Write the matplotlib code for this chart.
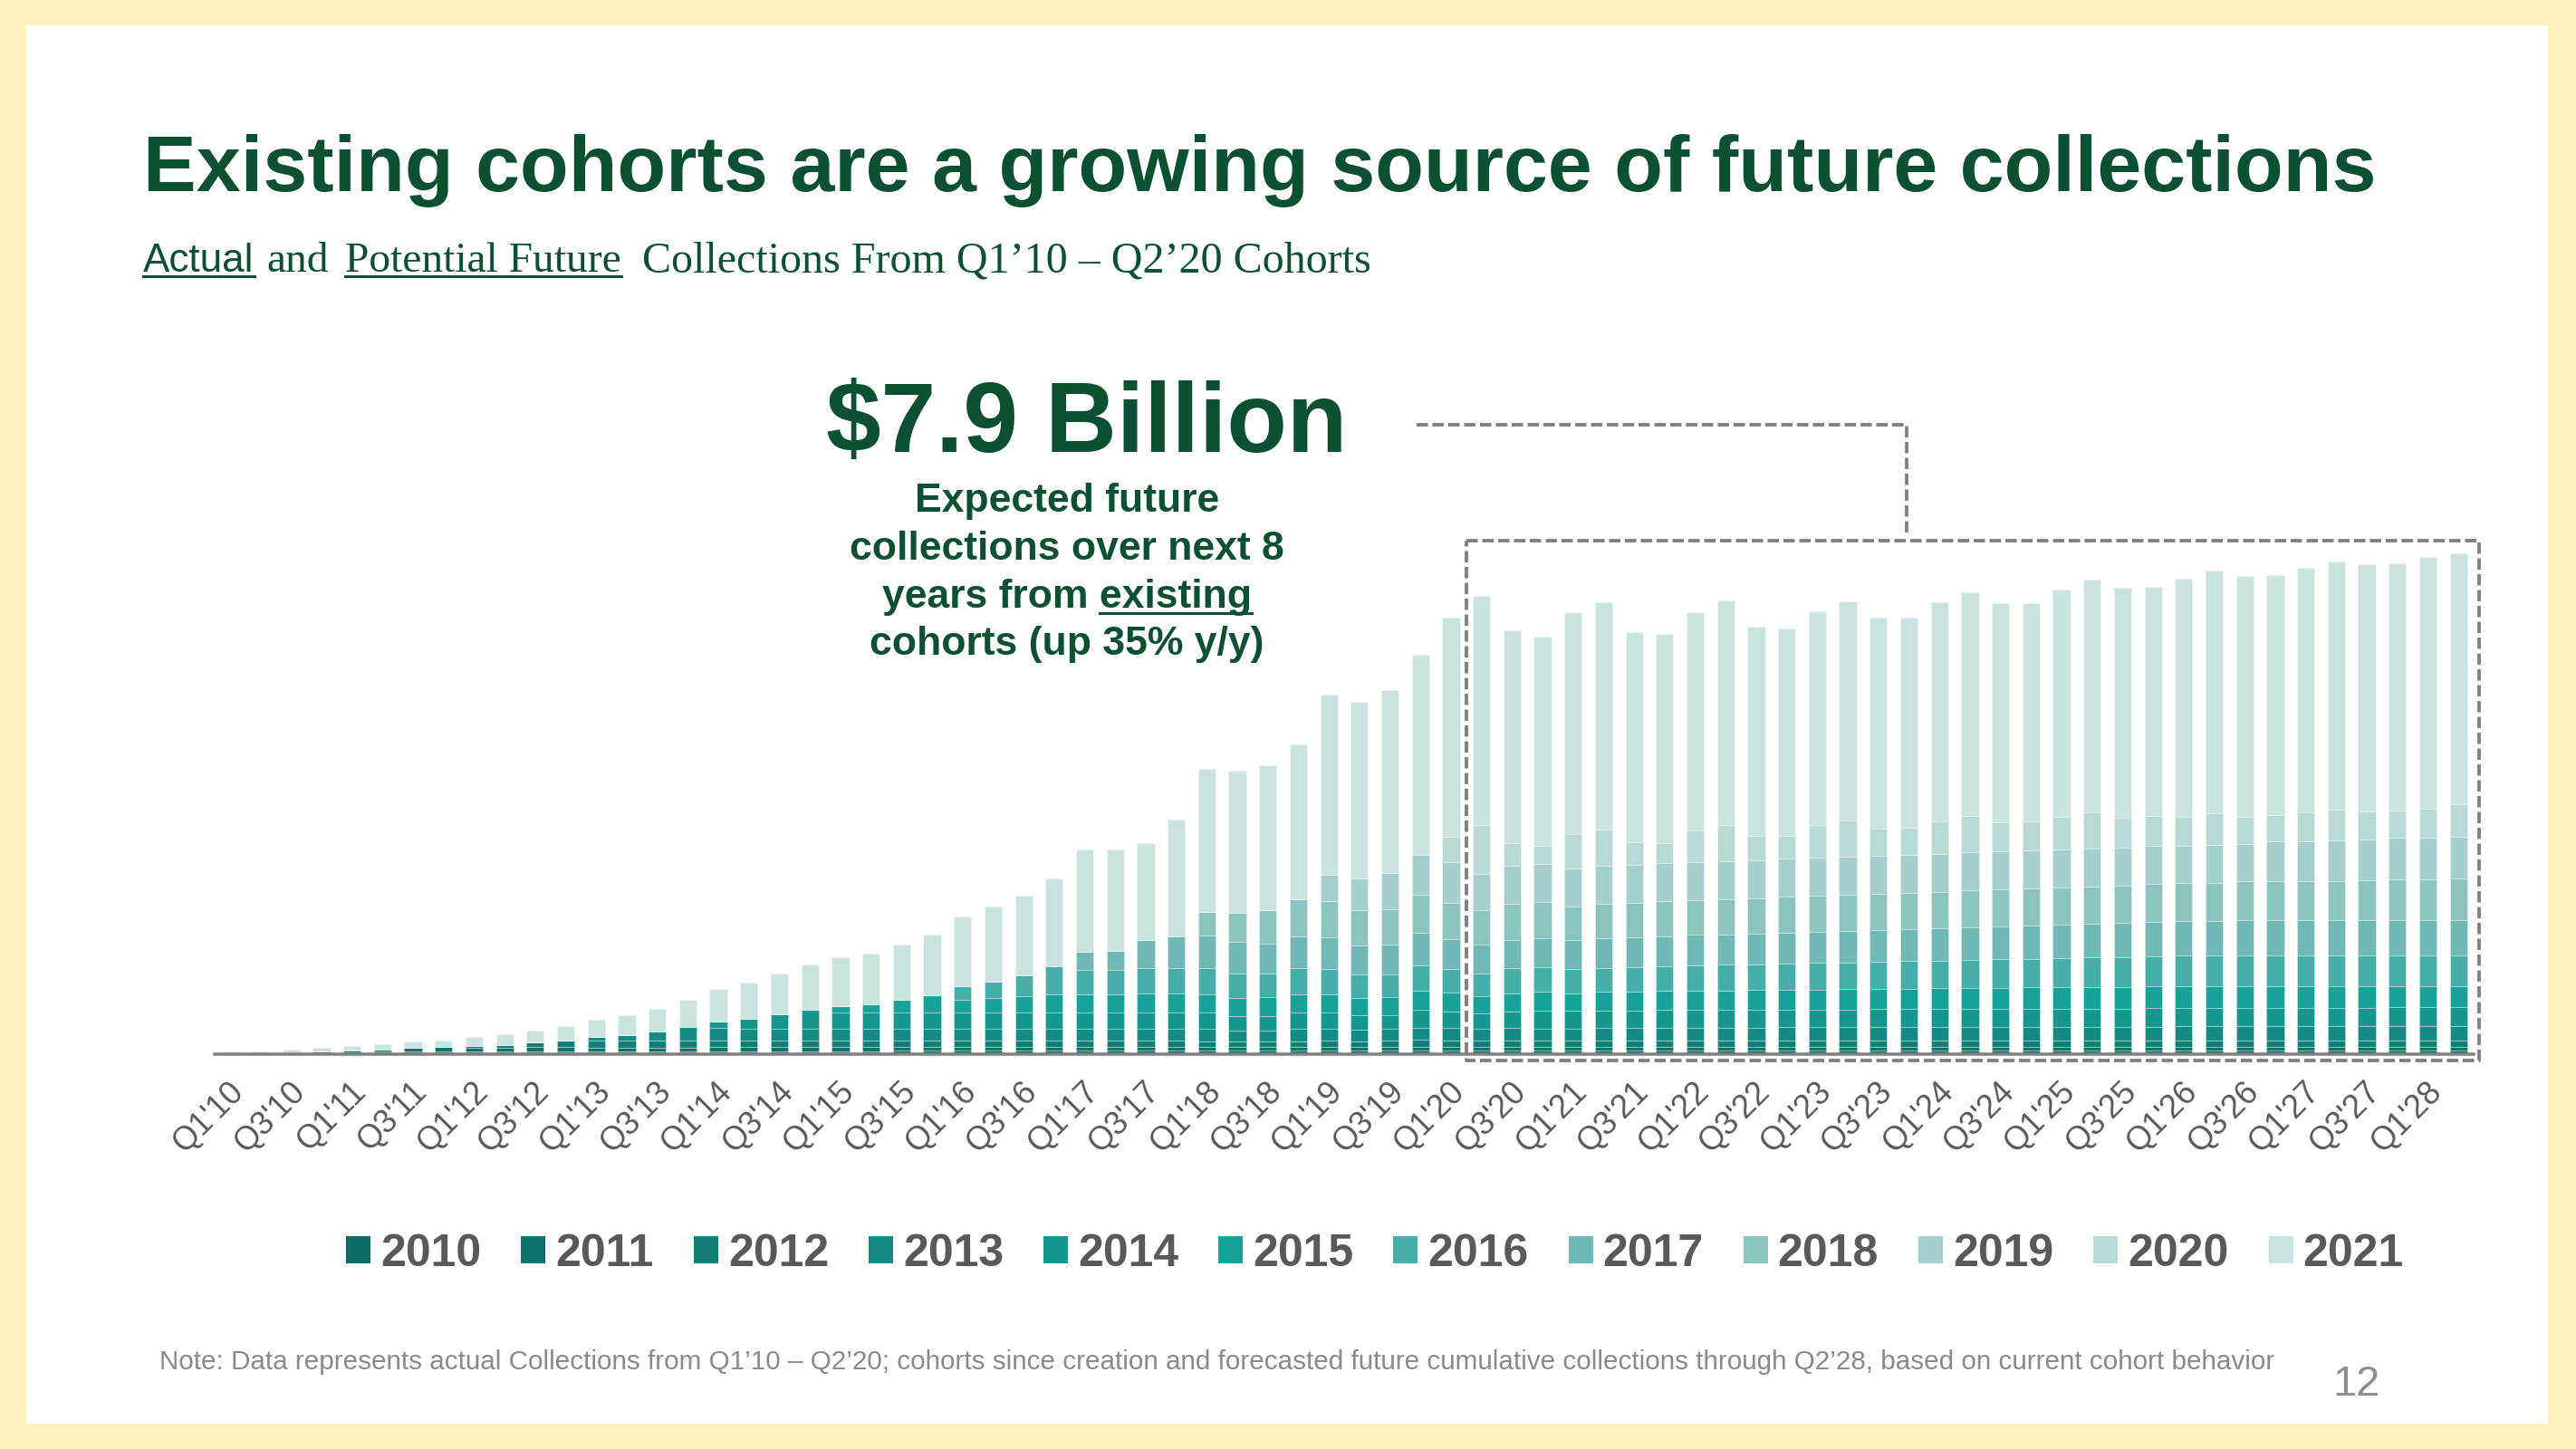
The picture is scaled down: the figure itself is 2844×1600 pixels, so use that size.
import matplotlib
matplotlib.use("Agg")
import matplotlib.pyplot as plt
from matplotlib.patches import Rectangle, Patch
from matplotlib.lines import Line2D
from matplotlib.transforms import ScaledTranslation
import numpy as np

plt.rcParams['lines.scale_dashes'] = False
SANS = ['Liberation Sans', 'DejaVu Sans']
SERIF = ['Liberation Serif', 'DejaVu Serif']
plt.rcParams['font.family'] = SANS

W, H, DPI = 2844, 1600, 100
def fx(px): return px / W
def fy(py): return 1 - py / H
def pt(px): return px * 72 / DPI

# ---------------- data ----------------
tick_labels = ["Q1'10", "Q3'10", "Q1'11", "Q3'11", "Q1'12", "Q3'12", "Q1'13", "Q3'13",
               "Q1'14", "Q3'14", "Q1'15", "Q3'15", "Q1'16", "Q3'16", "Q1'17", "Q3'17",
               "Q1'18", "Q3'18", "Q1'19", "Q3'19", "Q1'20", "Q3'20", "Q1'21", "Q3'21",
               "Q1'22", "Q3'22", "Q1'23", "Q3'23", "Q1'24", "Q3'24", "Q1'25", "Q3'25",
               "Q1'26", "Q3'26", "Q1'27", "Q3'27", "Q1'28"]
cohorts = ["2010", "2011", "2012", "2013", "2014", "2015",
           "2016", "2017", "2018", "2019", "2020", "2021"]

# total bar heights (relative units), Q1'10 .. Q2'28
bar_totals = [1.7, 3.5, 5.2, 6.6, 9.3, 11.3, 14.5, 15.5, 19.3, 21.7, 26, 31.3,
              38, 43.5, 50.3, 60.5, 72.3, 79.3, 89.3, 99.3, 107.3, 111, 121, 132,
              152, 163, 175.5, 194, 226, 226, 233.5, 259, 315, 313, 319, 342,
              397, 389.5, 402, 441, 482, 506, 468, 461, 488, 499, 466, 464,
              488, 501, 472, 470, 489, 500, 482, 482, 499, 510, 498, 498,
              513, 524, 515, 516.5, 525, 534, 528, 529, 537.5, 544, 541, 542,
              549, 553]

c2010 = [0.8, 1.3, 2.2, 2.7, 2.5, 2.6, 2.8, 2.8, 2.8, 2.8, 2.9, 3.0,
         3.0, 3.0, 3.1, 3.2, 3.3, 3.3, 3.4, 3.4, 3.5, 3.5, 3.6, 3.6,
         3.7, 3.7, 3.8, 3.8, 3.8, 3.8, 3.9, 3.9, 4.1, 4.1, 4.1, 4.1,
         4.1, 4.1, 4.1, 4.1, 4.1, 4.1, 4.0, 4.0, 4.0, 4.0, 4.0, 4.0,
         4.0, 4.0, 4.0, 4.0, 4.0, 4.0, 4.0, 4.0, 4.0, 4.0, 4.0, 4.0,
         4.0, 4.0, 4.0, 4.0, 3.8, 3.8, 3.8, 3.8, 3.8, 3.8, 3.8, 3.8,
         3.8, 3.8]
c2011 = [0, 0, 0, 0, 2.0, 2.9, 4.2, 4.9, 4.6, 4.6, 4.7, 4.8,
         4.5, 4.3, 4.3, 4.3] + [4.3] * 16 + [4.1] * 12 + [4.0] * 20 + [3.9] * 10
c2012 = [0] * 8 + [2.1, 2.9, 5.1, 7.5, 7.6, 7.4, 7.3, 7.2] + [7.0] * 16 + \
        [6.0, 5.4, 5.4, 6.0, 6.7, 6.0, 6.7, 7.7, 7.0, 6.7, 7.0, 6.7, 6.7] + \
        [7.0] * 19 + [7.6] * 10
c2013 = [0] * 12 + [3.6, 6.8, 10.0, 15.3, 14.0, 13.8, 13.6, 13.5, 13.4, 13.3, 13.2, 13.1,
         13.0, 13.0, 13.0, 13.0, 13.0, 13.0, 13.0, 13.2,
         13.4, 12.3, 12.0, 13.4, 12.7, 12.7, 12.7, 13.3, 13.4, 12.7, 13.7, 13.7, 13.7,
         14.0, 14.1, 14.2, 14.3, 14.4, 14.5, 14.6, 14.6, 14.7, 14.8, 14.9, 15.0,
         15.0, 15.1, 15.2, 15.2, 15.3, 15.3, 15.4] + [15.4] * 10
c2014 = [0] * 16 + [7.1, 10.9, 16.0, 21.1] + [18.0] * 12 + \
        [18.0, 15.7, 16.0, 18.0, 18.3, 15.7, 15.6, 19.7, 18.0, 17.3, 18.7, 19.3, 19.3,
         19.3, 19.4, 19.4, 19.5, 19.5, 19.6, 19.6, 19.7, 19.7, 19.8, 19.8, 19.9,
         19.9, 20.0, 20.0, 20.1, 20.1, 20.2, 20.2,
         20.3, 20.4, 20.5, 20.6, 20.7, 20.8, 20.8, 20.9, 21.0, 21.0]
c2015 = [0] * 20 + [7.1, 8.9, 13.6, 19.3, 14.0, 16.0, 18.0, 20.0, 20.0, 20.0, 20.5, 20.5,
         20.6, 20.0, 21.0, 20.6, 20.3, 19.0, 19.4, 21.3, 21.0, 18.7, 20.0, 21.0, 19.8,
         20.5, 20.8, 21.0, 21.2, 21.4, 21.6, 21.8, 22.0, 22.2, 22.4, 22.6, 22.8,
         23.0, 23.2, 23.4, 23.6, 23.8, 24.0, 24.2,
         24.5, 24.4, 24.3, 24.2, 24.1, 24.0, 24.0, 23.9, 23.8, 23.8]
c2016 = [0] * 24 + [15.0, 18.0, 22.6, 30.6, 26.6, 27.0, 28.0, 28.5,
         29.0, 27.6, 26.6, 29.0, 28.0, 26.6, 25.6, 28.0, 26.6, 25.6, 27.3, 26.8, 26.1,
         26.5, 27.0, 27.5, 28.0, 28.3, 28.6, 29.0, 29.3, 29.6, 30.0, 30.3, 30.6,
         31.0, 31.3, 31.6, 32.0, 32.4, 32.8, 33.2] + [33.5] * 10
c2017 = [0] * 28 + [20.0, 21.0, 31.3, 34.6,
         36.0, 34.4, 32.7, 34.7, 34.4, 32.0, 32.7, 36.0, 33.0, 31.4, 31.7, 32.2, 32.5,
         32.8, 33.0, 33.3, 33.6, 33.9, 34.2, 34.5, 34.8, 35.1, 35.4, 35.7, 36.0,
         36.3, 36.6, 36.9, 37.2, 37.5, 37.8, 38.1,
         38.5, 38.5, 38.6, 38.7, 38.8, 38.8, 38.9, 39.0, 39.0, 39.0]
c2018 = [0] * 32 + [25.4, 32.0, 36.7, 40.7,
         40.6, 39.0, 39.3, 41.4, 40.0, 38.0, 40.0, 39.8, 37.2,
         38.0, 38.2, 38.4, 38.6, 38.8, 39.0, 39.2, 39.4, 39.6, 39.8, 40.0, 40.2,
         40.4, 40.6, 40.8, 41.0, 41.2, 41.4, 41.5,
         41.5, 42.0, 43.0, 43.5, 43.5, 43.5, 44.5, 45.0, 45.5, 46.0]
c2019 = [0] * 36 + [28.4, 35.0, 39.7, 44.6, 45.0, 40.0, 42.0, 42.2, 42.1] + [42.0] * 19 + \
        [41.0, 41.7, 41.4, 43.4, 43.3, 44.5, 44.5, 46.0, 46.0, 46.0]
c2020 = [0] * 40 + [28.0, 54.0, 24.6, 20.0, 37.3,
         40, 25, 22, 35, 40, 27, 25, 36, 40, 30, 30, 36, 40, 32, 32, 36, 40, 33, 33,
         32.5, 35.3, 30.0, 29.0, 32.0, 34.0, 31.0, 30.0, 32.0, 36.0]

known = [c2010, c2011, c2012, c2013, c2014, c2015, c2016, c2017, c2018, c2019, c2020]
# top (lightest) segment = remainder of the read bar total
c2021 = list(np.array(bar_totals) - np.sum(np.array(known), axis=0))
series = known + [c2021]

colors = ['#0e6b64', '#0f736d', '#117f78', '#138b84', '#15968f', '#16a199',
          '#45aea8', '#6fb8b3', '#8dc4c0', '#a4cfcc', '#b9d9d6', '#cae2e0']

GREEN = '#0b5131'
GRAY_TXT = '#595959'
DASH_C = '#7f7f7f'

# ---------------- figure ----------------
fig = plt.figure(figsize=(W / DPI, H / DPI), dpi=DPI)
fig.patch.set_facecolor('#fef1be')
fig.patches.append(Rectangle((fx(29), fy(1572)), fx(2813) - fx(29), fy(28) - fy(1572),
                             transform=fig.transFigure, facecolor='white',
                             edgecolor='none', zorder=-5))

ax = fig.add_axes([fx(237), fy(1164), fx(2731) - fx(237), (1164 - 560) / H])
ax.set_zorder(1)
ax.set_facecolor('none')
x = np.arange(len(bar_totals))
bottom = np.zeros(len(x))
for vals, c in zip(series, colors):
    v = np.array(vals, dtype=float)
    ax.bar(x, v, width=0.57, bottom=bottom, color=c,
           edgecolor=(1, 1, 1, 0.35), linewidth=0.6, zorder=2)
    bottom += v

ax.set_xlim(-0.5, 73.5)
ax.set_ylim(0, 604)
for s in ['top', 'right', 'left']:
    ax.spines[s].set_visible(False)
ax.spines['bottom'].set_color('#808080')
ax.spines['bottom'].set_linewidth(pt(3.5))
ax.spines['bottom'].set_zorder(3)
ax.set_yticks([])
ax.set_xticks(np.arange(0, 74, 2))
ax.set_xticklabels(tick_labels, rotation=45, ha='right', va='center',
                   rotation_mode='anchor', fontsize=pt(36), color=GRAY_TXT)
ax.tick_params(axis='x', length=0, pad=pt(36))
shift = ScaledTranslation(10 / DPI, 0, fig.dpi_scale_trans)
for lbl in ax.get_xticklabels():
    lbl.set_transform(lbl.get_transform() + shift)

# ---------------- texts ----------------
fig.text(fx(158), fy(211), "Existing cohorts are a growing source of future collections",
         fontsize=pt(88), weight='bold', color=GREEN, va='baseline', ha='left')

renderer = fig.canvas.get_renderer()
def underline(t, lw_px=3, off=5):
    bb = t.get_window_extent(renderer)
    y = (t.get_position()[1] * H - off) / H
    fig.add_artist(Line2D([bb.x0 / W, bb.x1 / W], [y, y], color=GREEN,
                          linewidth=pt(lw_px), transform=fig.transFigure))

sb = 300
t1 = fig.text(fx(158), fy(sb), "Actual", fontsize=pt(44), color=GREEN, va='baseline', family=SANS)
underline(t1)
fig.text(fx(294), fy(sb), "and", fontsize=pt(47.5), color=GREEN, va='baseline', family=SERIF)
t3 = fig.text(fx(381), fy(sb), "Potential Future", fontsize=pt(47.5), color=GREEN,
              va='baseline', family=SERIF)
underline(t3)
fig.text(fx(709), fy(sb), "Collections From Q1\u201910 \u2013 Q2\u201920 Cohorts",
         fontsize=pt(48), color=GREEN, va='baseline', family=SERIF)

fig.text(fx(1200), fy(499), "$7.9 Billion", fontsize=pt(109), weight='bold',
         color=GREEN, ha='center', va='baseline')
desc = ["Expected future", "collections over next 8", "years from existing",
        "cohorts (up 35% y/y)"]
baselines = [565, 618, 671, 723]
for line, b in zip(desc, baselines):
    t = fig.text(fx(1178), fy(b), line, fontsize=pt(44.5), weight='bold', color=GREEN,
                 ha='center', va='baseline')
    if line.endswith("existing"):
        bb = t.get_window_extent(renderer)
        tmp = fig.text(0, 0, "existing", fontsize=pt(44.5), weight='bold')
        wexist = tmp.get_window_extent(renderer).width
        tmp.remove()
        yu = (H - b - 6) / H
        fig.add_artist(Line2D([(bb.x1 - wexist) / W, bb.x1 / W], [yu, yu], color=GREEN,
                              linewidth=pt(3), transform=fig.transFigure))

# dashed callout box and connector
def dline(xs, ys):
    ln = Line2D([fx(v) for v in xs], [fy(v) for v in ys], color=DASH_C,
                linewidth=pt(3.8), transform=fig.transFigure, zorder=5)
    ln.set_dashes((pt(12.5), pt(5)))
    fig.add_artist(ln)

dline([1619, 2737, 2737, 1619, 1619], [597, 597, 1171, 1171, 597])
dline([1564, 2105, 2105], [469, 469, 592])

# legend
handles = [Patch(facecolor=c, edgecolor='none') for c in colors]
fig.legend(handles, cohorts, loc='center', bbox_to_anchor=(fx(1518), fy(1385)),
           ncol=12, frameon=False,
           prop=dict(family=SANS, weight='bold', size=pt(50)),
           labelcolor=GRAY_TXT, handlelength=0.54, handleheight=0.54,
           handletextpad=0.22, columnspacing=0.88, borderpad=0, borderaxespad=0)

fig.text(fx(176), fy(1512),
         "Note: Data represents actual Collections from Q1\u201910 \u2013 Q2\u201920; cohorts since "
         "creation and forecasted future cumulative collections through Q2\u201928, based on "
         "current cohort behavior",
         fontsize=pt(29.6), color='#8a8a8a', va='baseline')
fig.text(fx(2575), fy(1541), "12", fontsize=pt(47), color='#8f8f8f', va='baseline',
         family=SANS)

fig.savefig("out.png", dpi=DPI, facecolor=fig.get_facecolor())
